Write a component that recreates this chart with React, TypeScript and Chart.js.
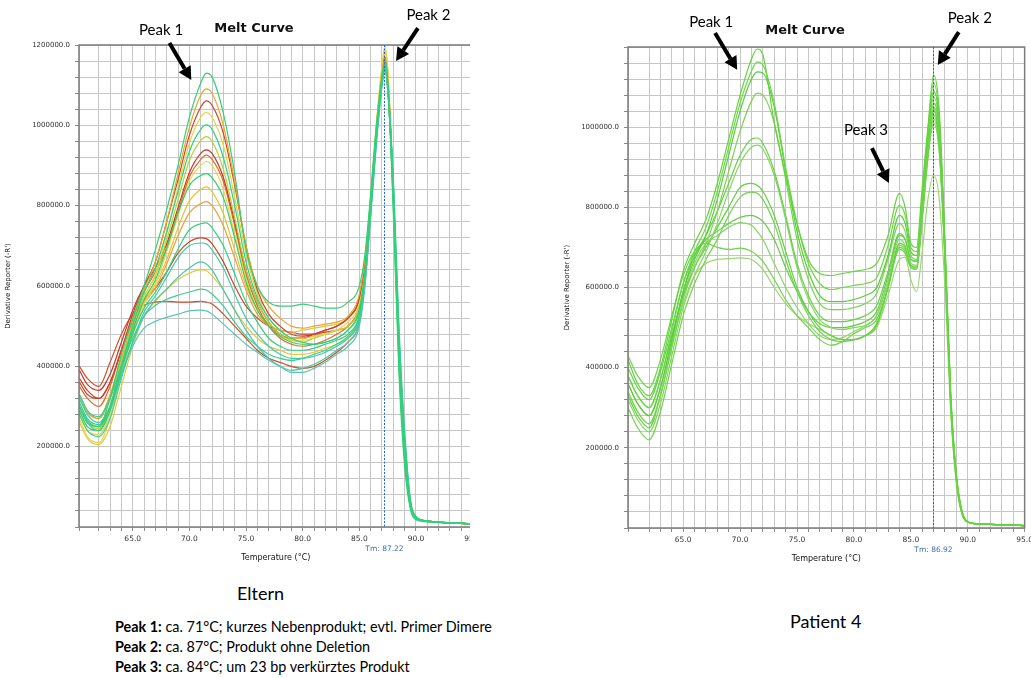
import React, { useEffect, useRef } from "react";
import { Chart, registerables } from "chart.js";
Chart.register(...registerables);

// ---------- Temperature grids (°C) ----------
const elternTemps = [60.3, 61, 62, 63, 64, 65, 66, 67, 68, 69, 70, 71, 71.5, 72, 73, 74, 75, 76, 77, 78, 79, 80, 81, 82, 83, 84, 85, 85.5, 86, 86.5, 87, 87.25, 87.5, 88, 88.5, 89, 89.5, 90, 91, 92, 93, 94, 95];
const patientTemps = [60.15, 61, 62, 63, 64, 65, 66, 67, 68, 69, 70, 71, 71.5, 72, 73, 74, 75, 76, 77, 78, 79, 80, 81, 82, 83, 84, 84.5, 85, 85.5, 86, 86.5, 87, 87.5, 88, 88.5, 89, 89.5, 90, 91, 92, 93, 94, 95];

// ---------- Eltern curves (derivative reporter, thousands) ----------
const eltern01 = [300, 260, 250, 320, 430, 520, 600, 690, 790, 900, 1020, 1105, 1130, 1120, 1030, 880, 690, 600, 560, 550, 550, 555, 550, 545, 545, 560, 600, 680, 830, 1000, 1120, 1150, 1100, 820, 430, 190, 55, 22, 14, 12, 10, 9, 8];
const eltern02 = [330, 290, 270, 330, 420, 510, 590, 660, 760, 880, 995, 1075, 1091, 1080, 1000, 860, 700, 600, 550, 520, 500, 495, 500, 505, 510, 525, 580, 670, 820, 990, 1130, 1165, 1120, 830, 440, 200, 60, 24, 15, 12, 10, 9, 8];
const eltern03 = [360, 330, 320, 360, 440, 530, 600, 660, 760, 865, 975, 1045, 1061, 1050, 980, 850, 700, 590, 530, 500, 480, 475, 480, 490, 500, 520, 570, 660, 800, 980, 1120, 1160, 1110, 840, 450, 205, 62, 24, 15, 12, 10, 9, 8];
const eltern04 = [280, 240, 230, 280, 380, 480, 570, 630, 730, 845, 955, 1020, 1032, 1020, 950, 820, 680, 580, 520, 490, 470, 470, 475, 480, 490, 510, 560, 660, 820, 1000, 1150, 1198, 1140, 820, 420, 185, 55, 22, 14, 12, 10, 9, 8];
const eltern05 = [310, 270, 255, 300, 400, 500, 585, 645, 735, 835, 935, 990, 1001, 990, 920, 800, 660, 570, 520, 490, 470, 460, 455, 460, 470, 490, 540, 630, 790, 970, 1110, 1150, 1100, 850, 470, 220, 65, 25, 15, 12, 10, 9, 8];
const eltern06 = [290, 250, 240, 300, 410, 500, 575, 625, 715, 815, 912, 962, 972, 960, 890, 770, 640, 560, 510, 480, 465, 460, 470, 480, 490, 500, 550, 650, 810, 990, 1125, 1160, 1110, 820, 430, 190, 55, 22, 14, 12, 10, 9, 8];
const eltern07 = [390, 355, 340, 380, 460, 540, 600, 645, 705, 795, 882, 930, 939, 930, 870, 760, 640, 560, 510, 480, 470, 470, 480, 490, 500, 520, 570, 660, 810, 990, 1130, 1170, 1120, 840, 450, 200, 60, 24, 15, 12, 10, 9, 8];
const eltern08 = [350, 320, 300, 350, 440, 520, 585, 635, 695, 785, 872, 915, 926, 915, 860, 750, 630, 550, 500, 470, 455, 450, 455, 465, 480, 500, 550, 640, 790, 970, 1110, 1150, 1110, 830, 440, 200, 60, 24, 15, 12, 10, 9, 8];
const eltern09 = [270, 225, 210, 270, 380, 480, 555, 605, 685, 775, 862, 900, 910, 900, 840, 730, 620, 540, 500, 475, 465, 465, 470, 480, 490, 500, 550, 650, 810, 990, 1140, 1190, 1140, 830, 430, 190, 55, 22, 14, 12, 10, 9, 8];
const eltern10 = [300, 260, 245, 300, 400, 490, 560, 605, 665, 745, 812, 840, 847, 835, 780, 690, 600, 540, 505, 490, 485, 490, 495, 500, 505, 520, 570, 660, 820, 1000, 1140, 1185, 1130, 820, 420, 185, 55, 22, 14, 12, 10, 9, 8];
const eltern11 = [320, 285, 270, 320, 410, 490, 555, 595, 655, 725, 782, 805, 810, 800, 750, 670, 590, 530, 500, 480, 470, 470, 475, 480, 490, 500, 550, 640, 800, 980, 1120, 1160, 1110, 830, 440, 200, 60, 24, 15, 12, 10, 9, 8];
const eltern12 = [290, 250, 240, 290, 390, 480, 545, 585, 635, 692, 740, 755, 757, 745, 700, 630, 560, 510, 470, 450, 440, 440, 445, 455, 465, 480, 530, 630, 790, 970, 1110, 1150, 1100, 800, 400, 170, 50, 20, 14, 12, 10, 9, 8];
const eltern13 = [370, 340, 320, 360, 440, 510, 565, 595, 635, 682, 710, 720, 718, 705, 660, 600, 550, 520, 500, 490, 485, 480, 480, 485, 490, 500, 550, 640, 800, 980, 1120, 1160, 1110, 840, 450, 200, 60, 24, 15, 12, 10, 9, 8];
const eltern14 = [280, 240, 225, 270, 370, 460, 535, 575, 622, 670, 700, 707, 705, 690, 645, 580, 520, 480, 450, 430, 420, 420, 425, 435, 450, 470, 520, 620, 790, 970, 1110, 1150, 1100, 870, 500, 240, 70, 26, 15, 12, 10, 9, 8];
const eltern15 = [320, 280, 260, 300, 380, 460, 525, 565, 592, 622, 645, 660, 655, 640, 590, 540, 490, 450, 420, 400, 390, 395, 405, 420, 440, 460, 510, 610, 780, 960, 1100, 1140, 1090, 860, 480, 230, 68, 25, 15, 12, 10, 9, 8];
const eltern16 = [400, 370, 350, 410, 480, 530, 552, 560, 562, 560, 560, 562, 560, 555, 530, 500, 470, 440, 420, 410, 400, 395, 400, 415, 435, 460, 510, 610, 780, 960, 1100, 1140, 1090, 830, 440, 200, 60, 24, 15, 12, 10, 9, 8];
const eltern17 = [300, 260, 240, 290, 380, 450, 495, 512, 522, 530, 538, 540, 538, 530, 505, 480, 455, 435, 415, 400, 385, 385, 395, 410, 430, 450, 500, 600, 770, 950, 1100, 1140, 1090, 830, 460, 210, 62, 24, 15, 12, 10, 9, 8];
const eltern18 = [260, 220, 205, 250, 350, 450, 525, 562, 592, 616, 632, 640, 638, 625, 590, 540, 500, 470, 450, 440, 430, 430, 435, 445, 455, 470, 520, 620, 790, 980, 1130, 1185, 1140, 830, 430, 190, 55, 22, 14, 12, 10, 9, 8];
const eltern19 = [300, 265, 250, 300, 400, 490, 565, 615, 695, 782, 850, 875, 880, 870, 820, 720, 610, 540, 500, 475, 460, 455, 455, 460, 470, 490, 540, 630, 800, 980, 1120, 1160, 1110, 780, 380, 150, 45, 18, 13, 11, 10, 9, 8];
const eltern20 = [330, 290, 275, 320, 400, 470, 525, 552, 567, 577, 585, 592, 590, 580, 550, 510, 475, 450, 430, 420, 415, 420, 430, 440, 455, 475, 525, 625, 790, 970, 1110, 1150, 1100, 840, 450, 200, 60, 24, 15, 12, 10, 9, 8];

const elternCurves = [eltern01, eltern02, eltern03, eltern04, eltern05, eltern06, eltern07, eltern08, eltern09, eltern10, eltern11, eltern12, eltern13, eltern14, eltern15, eltern16, eltern17, eltern18, eltern19, eltern20];
const elternColors = ["#35cf78", "#eea42e", "#cf4128", "#e9d23c", "#2bd184", "#b6d23c", "#c93a26", "#df6a2c", "#ead54a", "#e3c532", "#eb9f38", "#33d07a", "#c9472c", "#3fcca6", "#4ac6ae", "#d24f2c", "#55c7b6", "#e2ca42", "#2ecf6c", "#39d08c"];
const elternLayer = [0, 1, 1, 1, 0, 1, 1, 1, 1, 1, 1, 0, 1, 0, 0, 1, 0, 1, 0, 0];

// ---------- Patient 4 curves (thousands) ----------
const patient01 = [420, 360, 330, 400, 520, 640, 710, 770, 860, 970, 1080, 1170, 1195, 1180, 1010, 880, 760, 670, 635, 630, 635, 640, 645, 660, 730, 835, 800, 710, 700, 850, 1000, 1130, 1040, 720, 340, 135, 42, 16, 11, 9, 8, 7, 6];
const patient02 = [380, 330, 300, 370, 490, 610, 690, 750, 840, 950, 1060, 1140, 1163, 1155, 1060, 900, 760, 660, 610, 595, 600, 605, 610, 625, 705, 805, 780, 700, 690, 830, 990, 1110, 1020, 700, 330, 130, 40, 15, 10, 9, 8, 7, 6];
const patient03 = [360, 310, 280, 350, 470, 590, 670, 730, 820, 930, 1040, 1120, 1138, 1135, 1050, 890, 740, 640, 580, 565, 565, 570, 580, 600, 680, 780, 760, 690, 680, 820, 980, 1090, 1010, 690, 325, 128, 39, 15, 10, 9, 8, 7, 6];
const patient04 = [340, 290, 260, 330, 450, 570, 650, 710, 790, 890, 990, 1065, 1085, 1080, 1010, 870, 720, 620, 560, 545, 545, 550, 560, 585, 670, 760, 740, 680, 670, 810, 970, 1075, 1000, 700, 335, 132, 40, 15, 10, 9, 8, 7, 6];
const patient05 = [400, 350, 320, 390, 500, 610, 680, 730, 790, 860, 930, 970, 973, 960, 890, 780, 660, 580, 530, 515, 515, 520, 530, 555, 640, 735, 720, 670, 665, 800, 960, 1060, 990, 690, 325, 128, 39, 15, 10, 9, 8, 7, 6];
const patient06 = [320, 270, 240, 310, 430, 550, 630, 690, 760, 840, 910, 950, 955, 945, 880, 770, 650, 570, 520, 500, 495, 500, 505, 530, 620, 720, 705, 660, 655, 790, 950, 1050, 980, 685, 320, 125, 38, 15, 10, 9, 8, 7, 6];
const patient07 = [380, 330, 300, 370, 480, 580, 650, 700, 750, 800, 850, 860, 855, 840, 780, 690, 600, 540, 500, 480, 470, 470, 480, 510, 600, 710, 700, 655, 650, 780, 940, 1040, 960, 680, 315, 122, 37, 15, 10, 9, 8, 7, 6];
const patient08 = [300, 250, 220, 290, 410, 530, 610, 670, 720, 780, 825, 838, 835, 820, 760, 670, 590, 530, 490, 470, 465, 470, 480, 505, 600, 700, 690, 650, 645, 770, 930, 1030, 950, 670, 310, 120, 36, 15, 10, 9, 8, 7, 6];
const patient09 = [360, 310, 280, 350, 470, 580, 660, 710, 730, 750, 762, 755, 740, 720, 660, 600, 550, 510, 480, 470, 475, 490, 505, 530, 610, 705, 695, 655, 650, 780, 930, 1020, 945, 670, 310, 120, 36, 15, 10, 9, 8, 7, 6];
const patient10 = [430, 380, 350, 420, 530, 630, 690, 710, 700, 695, 698, 690, 680, 665, 620, 570, 530, 500, 470, 456, 465, 485, 500, 520, 600, 695, 685, 650, 645, 770, 920, 1010, 935, 665, 305, 118, 35, 15, 10, 9, 8, 7, 6];
const patient11 = [340, 290, 260, 330, 450, 560, 630, 660, 670, 672, 674, 670, 660, 645, 600, 560, 530, 510, 495, 480, 470, 470, 480, 500, 580, 670, 676, 620, 590, 690, 820, 880, 820, 600, 290, 110, 34, 15, 10, 9, 8, 7, 6];
const patient12 = [330, 280, 250, 330, 460, 590, 680, 720, 740, 760, 775, 780, 775, 765, 720, 650, 590, 540, 510, 500, 500, 505, 515, 540, 630, 730, 720, 670, 665, 800, 950, 1045, 970, 680, 320, 125, 38, 15, 10, 9, 8, 7, 6];

const patientCurves = [patient01, patient02, patient03, patient04, patient05, patient06, patient07, patient08, patient09, patient10, patient11, patient12];
const patientColors = ["#62d43c", "#6cd846", "#58cc3a", "#7ad452", "#66d046", "#86d65e", "#5ed240", "#72d24c", "#8ad664", "#6ed44a", "#9ad86e", "#60ce44"];
const patientLayer = [0, 0, 0, 0, 0, 0, 0, 0, 0, 0, 0, 0];

// ---------- Axis & labels ----------
const chartTitle = "Melt Curve";
const xAxisTitle = "Temperature (°C)";
const yAxisTitle = "Derivative Reporter (-R')";
const elternTm = 87.22;
const patientTm = 86.92;
const yMax = 1200000;
const yStep = 40000;
const yLabelStep = 200000;

// annotations: [text, textT, textV(k), arrowFromT, arrowFromV, arrowToT, arrowToV]
const elternPeaks: [string, number, number, number, number, number, number][] = [
  ["Peak 1", 67.5, 1237, 68.24, 1205, 70.17, 1113],
  ["Peak 2", 91.1, 1275, 90.17, 1242, 88.24, 1160],
];
const patientPeaks: [string, number, number, number, number, number, number][] = [
  ["Peak 1", 67.46, 1262, 67.8, 1235, 69.74, 1143],
  ["Peak 2", 90.18, 1272, 89.21, 1237, 87.37, 1155],
  ["Peak 3", 81.06, 993, 81.58, 948, 83.07, 861],
];

const TICK_FONT = "DejaVu Sans";

function drawArrow(ctx: CanvasRenderingContext2D, x0: number, y0: number, x1: number, y1: number) {
  const ang = Math.atan2(y1 - y0, x1 - x0);
  const headLen = 13;
  const headW = 7;
  const bx = x1 - headLen * Math.cos(ang);
  const by = y1 - headLen * Math.sin(ang);
  ctx.strokeStyle = "#000";
  ctx.lineWidth = 4;
  ctx.lineCap = "butt";
  ctx.beginPath();
  ctx.moveTo(x0, y0);
  ctx.lineTo(bx, by);
  ctx.stroke();
  ctx.fillStyle = "#000";
  ctx.beginPath();
  ctx.moveTo(x1, y1);
  ctx.lineTo(bx + headW * Math.sin(ang), by - headW * Math.cos(ang));
  ctx.lineTo(bx - headW * Math.sin(ang), by + headW * Math.cos(ang));
  ctx.closePath();
  ctx.fill();
}

type MeltProps = {
  temps: number[];
  curves: number[][];
  colors: string[];
  layer: number[];
  xMin: number;
  tm: number;
  peaks: [string, number, number, number, number, number, number][];
  showTopLabel: boolean;
  width: number;
  height: number;
  yWidth: number;
  padTop: number;
  padRight: number;
  xHeight: number;
  yTitleX: number;
};

function MeltChart(p: MeltProps) {
  const ref = useRef<HTMLCanvasElement>(null);
  useEffect(() => {
    const decor = {
      id: "meltDecor",
      afterDraw(chart: any) {
        const { ctx, chartArea: a } = chart;
        const x = chart.scales.x;
        const y = chart.scales.y;
        ctx.save();
        // frame
        ctx.strokeStyle = "#7b7b7b";
        ctx.lineWidth = 1.5;
        ctx.strokeRect(a.left, a.top, a.right - a.left, a.bottom - a.top);
        // Tm line
        const tx = Math.round(x.getPixelForValue(p.tm)) + 0.5;
        ctx.strokeStyle = "#2463d6";
        ctx.lineWidth = 1;
        ctx.setLineDash([2, 1.5]);
        ctx.beginPath();
        ctx.moveTo(tx, a.top);
        ctx.lineTo(tx, a.bottom);
        ctx.stroke();
        ctx.setLineDash([]);
        // Tm label
        ctx.fillStyle = "#3a6fae";
        ctx.font = `7.5px "${TICK_FONT}"`;
        ctx.textAlign = "center";
        ctx.textBaseline = "middle";
        ctx.fillText("Tm: " + p.tm.toFixed(2), tx, a.bottom + 22);
        // x title
        ctx.fillStyle = "#111";
        ctx.font = `8px "${TICK_FONT}"`;
        ctx.fillText(xAxisTitle, (a.left + a.right) / 2, a.bottom + 31);
        // y title
        ctx.save();
        ctx.translate(p.yTitleX, (a.top + a.bottom) / 2);
        ctx.rotate(-Math.PI / 2);
        ctx.font = `7px "${TICK_FONT}"`;
        ctx.fillText(yAxisTitle, 0, 0);
        ctx.restore();
        // chart title
        ctx.font = `bold 13px "${TICK_FONT}"`;
        ctx.fillStyle = "#111";
        ctx.fillText(chartTitle, x.getPixelForValue(75.7), y.getPixelForValue(1242000));
        // peaks
        for (const pk of p.peaks) {
          const [txt, tT, tV, fT, fV, toT, toV] = pk;
          ctx.font = `15px Lato`;
          ctx.fillStyle = "#000";
          ctx.textAlign = "center";
          ctx.textBaseline = "middle";
          ctx.fillText(txt, x.getPixelForValue(tT), y.getPixelForValue(tV * 1000));
          drawArrow(ctx, x.getPixelForValue(fT), y.getPixelForValue(fV * 1000), x.getPixelForValue(toT), y.getPixelForValue(toV * 1000));
        }
        ctx.restore();
      },
    };

    const datasets = p.curves.map((c, i) => ({
      data: c.map((v, j) => ({ x: p.temps[j], y: v * 1000 })),
      borderColor: p.colors[i],
      borderWidth: 1.2,
      pointRadius: 0,
      fill: false,
      cubicInterpolationMode: "monotone" as const,
      order: p.layer[i],
    }));

    const chart = new Chart(ref.current as HTMLCanvasElement, {
      type: "line",
      data: { datasets },
      options: {
        responsive: false,
        maintainAspectRatio: false,
        animation: false,
        layout: { padding: { left: 0, top: p.padTop, right: p.padRight, bottom: 0 } },
        plugins: { legend: { display: false }, tooltip: { enabled: false }, title: { display: false } },
        scales: {
          x: {
            type: "linear",
            min: p.xMin,
            max: 95,
            border: { display: false },
            grid: { color: "#c6c6c6", lineWidth: 1, tickLength: 4, tickColor: "#8a8a8a", drawTicks: true },
            ticks: {
              stepSize: 1,
              autoSkip: false,
              maxRotation: 0,
              minRotation: 0,
              padding: 4,
              color: "#333",
              font: { family: TICK_FONT, size: 7.5 },
              callback: (v: any) => (Math.abs(Number(v) % 5) < 1e-9 ? Number(v).toFixed(1) : ""),
            },
            afterFit: (s: any) => {
              s.height = p.xHeight;
            },
          },
          y: {
            type: "linear",
            min: 0,
            max: yMax,
            border: { display: false },
            grid: { color: "#c6c6c6", lineWidth: 1, tickLength: 4, tickColor: "#8a8a8a", drawTicks: true },
            ticks: {
              stepSize: yStep,
              maxTicksLimit: 1000,
              autoSkip: false,
              padding: 5,
              color: "#333",
              font: { family: TICK_FONT, size: 7 },
              callback: (v: any) => {
                const n = Number(v);
                if (n <= 0 || Math.abs(n % yLabelStep) > 1e-6) return "";
                if (n >= yMax && !p.showTopLabel) return "";
                return n.toFixed(1);
              },
            },
            afterFit: (s: any) => {
              s.width = p.yWidth;
            },
          },
        },
      },
      plugins: [decor],
    } as any);
    return () => chart.destroy();
  }, []);
  return <canvas ref={ref} width={p.width} height={p.height} style={{ display: "block", width: p.width, height: p.height }} />;
}

const captionFont = "Lato, 'Open Sans', sans-serif";

export default function App() {
  return (
    <div style={{ position: "fixed", left: 0, top: 0, width: 1031, height: 678, background: "#fff", overflow: "hidden" }}>
      <div style={{ position: "absolute", left: 0, top: 0, width: 470, height: 575, overflow: "hidden" }}>
        <MeltChart
          temps={elternTemps}
          curves={elternCurves}
          colors={elternColors}
          layer={elternLayer}
          xMin={60.26}
          tm={elternTm}
          peaks={elternPeaks}
          showTopLabel={true}
          width={485}
          height={575}
          yWidth={79}
          padTop={45}
          padRight={10}
          xHeight={48}
          yTitleX={8}
        />
      </div>
      <div style={{ position: "absolute", left: 540, top: 0, width: 491, height: 575, overflow: "hidden" }}>
        <MeltChart
          temps={patientTemps}
          curves={patientCurves}
          colors={patientColors}
          layer={patientLayer}
          xMin={60.15}
          tm={patientTm}
          peaks={patientPeaks}
          showTopLabel={false}
          width={497}
          height={575}
          yWidth={88}
          padTop={47}
          padRight={10}
          xHeight={47}
          yTitleX={27}
        />
      </div>
      <div style={{ position: "absolute", left: 237, top: 580, fontFamily: captionFont, fontSize: 18, lineHeight: "26px", color: "#000" }}>Eltern</div>
      <div style={{ position: "absolute", left: 790, top: 608, fontFamily: captionFont, fontSize: 18, lineHeight: "26px", color: "#000" }}>Patient 4</div>
      <div style={{ position: "absolute", left: 115, top: 617, fontFamily: captionFont, fontSize: 14.4, lineHeight: "20px", color: "#000" }}>
        <div><b>Peak 1:</b> ca. 71°C; kurzes Nebenprodukt; evtl. Primer Dimere</div>
        <div><b>Peak 2:</b> ca. 87°C; Produkt ohne Deletion</div>
        <div><b>Peak 3:</b> ca. 84°C; um 23 bp verkürztes Produkt</div>
      </div>
    </div>
  );
}
